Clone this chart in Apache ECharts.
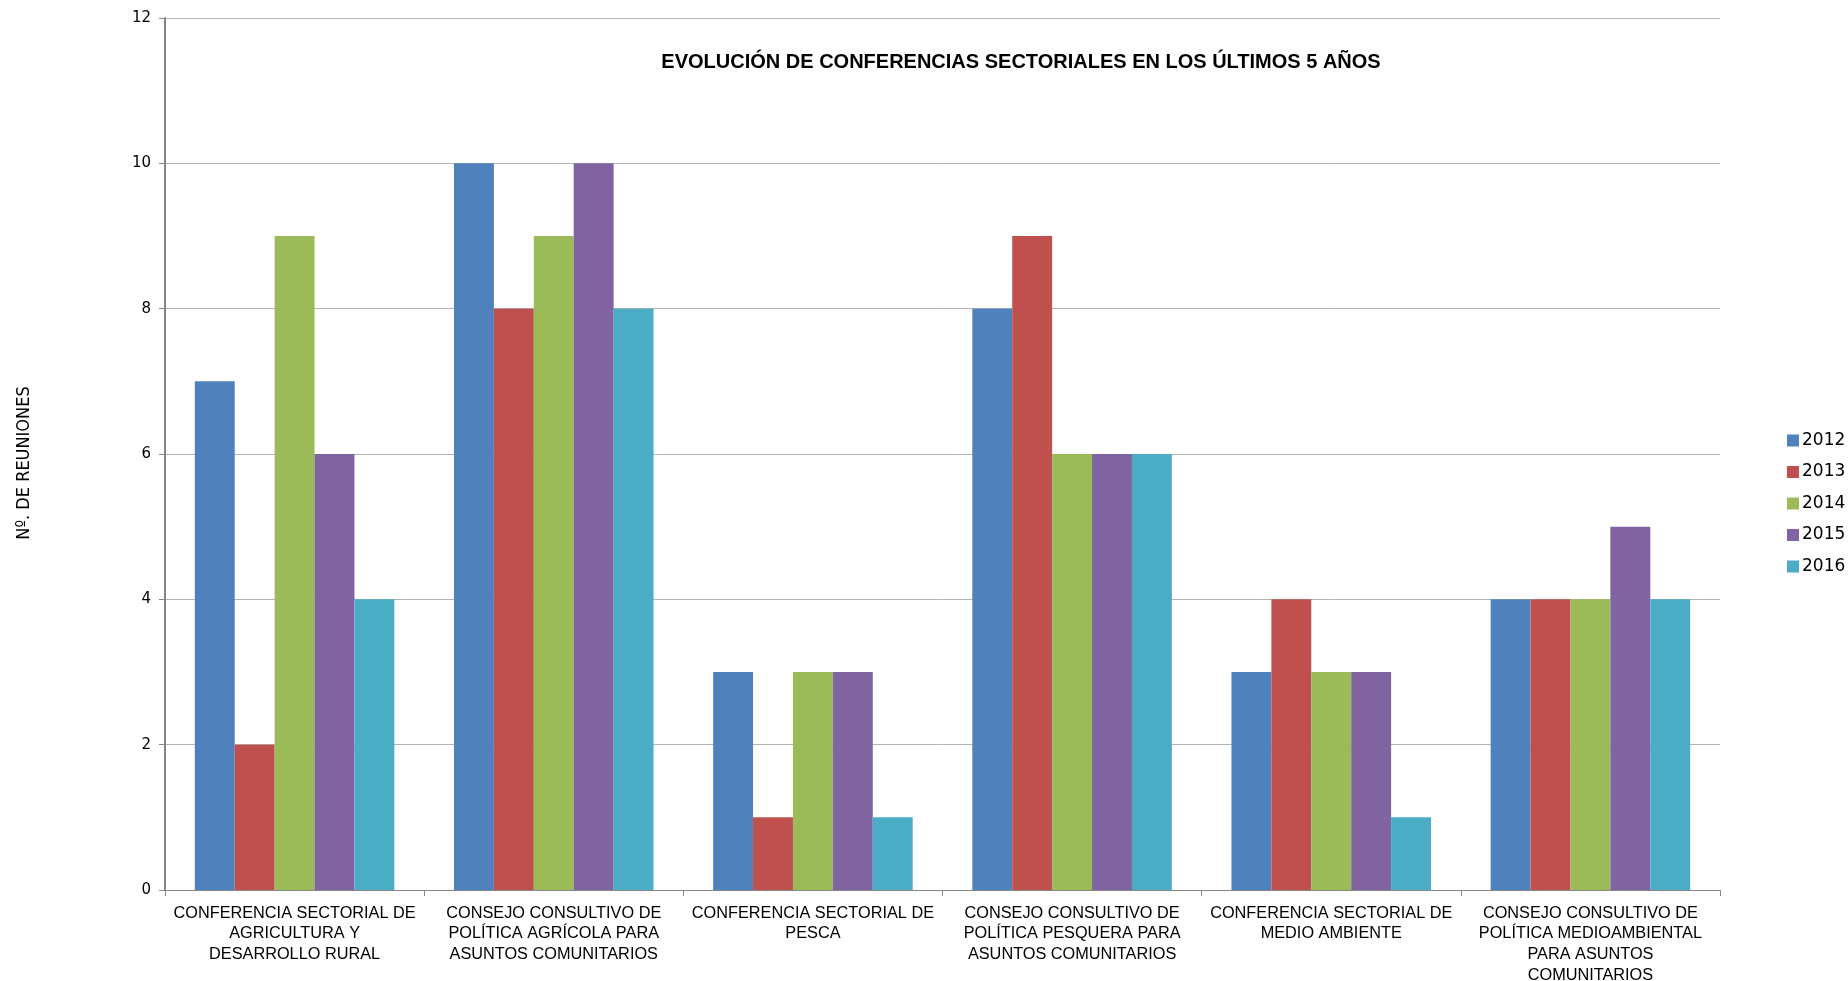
<!DOCTYPE html>
<html><head><meta charset="utf-8">
<script src="https://cdn.jsdelivr.net/npm/echarts@6/dist/echarts.min.js"></script>
<style>html,body{margin:0;padding:0;background:#fff}#c{width:1848px;height:981px}</style>
</head><body><div id="c"></div>
<script>
const categories = [
  "CONFERENCIA SECTORIAL DE\nAGRICULTURA Y\nDESARROLLO RURAL",
  "CONSEJO CONSULTIVO DE\nPOLÍTICA AGRÍCOLA PARA\nASUNTOS COMUNITARIOS",
  "CONFERENCIA SECTORIAL DE\nPESCA",
  "CONSEJO CONSULTIVO DE\nPOLÍTICA PESQUERA PARA\nASUNTOS COMUNITARIOS",
  "CONFERENCIA SECTORIAL DE\nMEDIO AMBIENTE",
  "CONSEJO CONSULTIVO DE\nPOLÍTICA MEDIOAMBIENTAL\nPARA ASUNTOS\nCOMUNITARIOS"
];
const years = ["2012", "2013", "2014", "2015", "2016"];
const v2012 = [7, 10, 3, 8, 3, 4];
const v2013 = [2, 8, 1, 9, 4, 4];
const v2014 = [9, 9, 3, 6, 3, 4];
const v2015 = [6, 10, 3, 6, 3, 5];
const v2016 = [4, 8, 1, 6, 1, 4];
const seriesValues = [v2012, v2013, v2014, v2015, v2016];
const colors = ["#4F81BD", "#C0504D", "#9BBB59", "#8064A2", "#4BACC6"];

const chart = echarts.init(document.getElementById('c'));
chart.setOption({
  animation: false,
  title: {
    text: "EVOLUCIÓN DE CONFERENCIAS SECTORIALES EN LOS ÚLTIMOS 5 AÑOS",
    left: 1016, top: 47, textAlign: 'center',
    textStyle: {fontFamily: "Liberation Sans Narrow, Liberation Sans", fontWeight: 'bold', fontSize: 20, color: '#000'}
  },
  legend: {
    orient: 'vertical', left: 1782, top: 427, itemWidth: 12, itemHeight: 12, itemGap: 14.5,
    icon: 'rect',
    textStyle: {fontFamily: "DejaVu Sans", fontSize: 17, color: '#000', padding: [0,0,0,-2]},
    data: years
  },
  grid: {left: 165, right: 128, top: 18, bottom: 91, containLabel: false, outerBoundsMode: 'none'},
  xAxis: {
    type: 'category', data: categories,
    axisLine: {lineStyle: {color: '#868686', width: 1}},
    axisTick: {show: true, length: 6, lineStyle: {color: '#868686'}},
    axisLabel: {interval: 0, margin: 13, lineHeight: 20.6, color: '#000',
      fontFamily: "Liberation Sans Narrow, Liberation Sans", fontSize: 16.3}
  },
  yAxis: {
    type: 'value', min: 0, max: 12, interval: 2,
    name: "Nº. DE REUNIONES", nameLocation: 'middle', nameGap: 132, nameRotate: 90,
    nameTextStyle: {fontFamily: "DejaVu Sans Condensed", fontSize: 18, color: '#000', padding: [0, 18, 0, 0]},
    axisLine: {show: true, lineStyle: {color: '#868686', width: 2}},
    axisTick: {show: true, length: 6, lineStyle: {color: '#868686'}},
    splitLine: {lineStyle: {color: '#b3b3b3', width: 1}},
    axisLabel: {margin: 14, color: '#000', fontFamily: "DejaVu Sans", fontSize: 15}
  },
  series: years.map((y, i) => ({
    name: y, type: 'bar', data: seriesValues[i],
    itemStyle: {color: colors[i]},
    barGap: '0%', barCategoryGap: '23%'
  }))
});
</script></body></html>
